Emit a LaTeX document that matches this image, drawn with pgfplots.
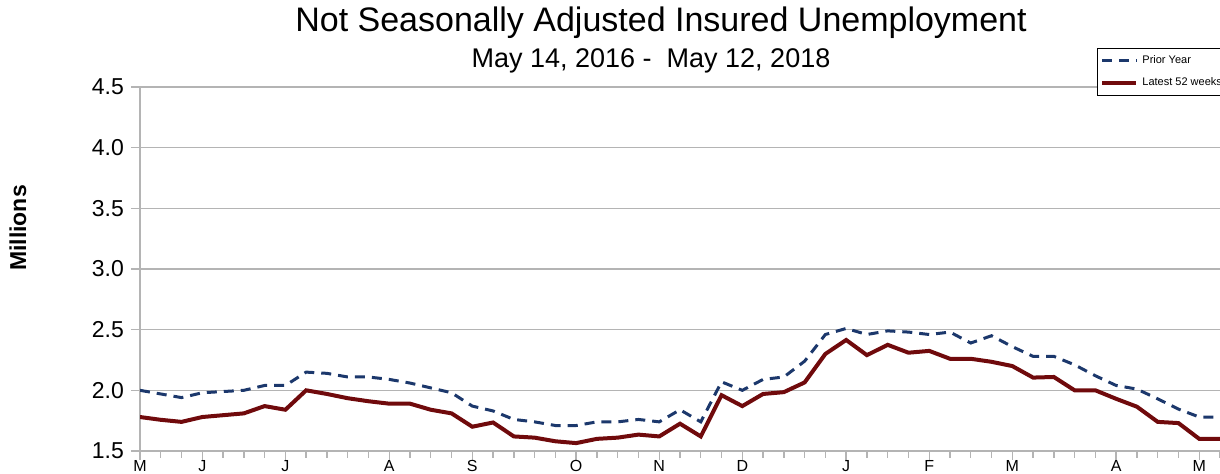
\documentclass[border=0pt]{standalone}
\usepackage{pgfplots}
\pgfplotsset{compat=1.18}
\usepackage{fontspec}
\setmainfont{Liberation Sans}
\definecolor{prior}{RGB}{28,56,108}
\definecolor{latest}{RGB}{112,10,12}
\definecolor{gridgray}{RGB}{180,180,180}
\begin{document}
\begin{tikzpicture}
\path[use as bounding box] (0,0) rectangle (610pt,237pt);
\begin{axis}[
  at={(70pt,11.5pt)}, anchor=south west,
  scale only axis, width=540pt, height=182pt,
  xmin=0, xmax=52, ymin=1.5, ymax=4.5,
  axis x line*=bottom, axis y line*=left,
  axis line style={gridgray, line width=1pt},
  ytick={1.5,2,2.5,3,3.5,4,4.5},
  yticklabel style={/pgf/number format/fixed,/pgf/number format/fixed zerofill,/pgf/number format/precision=1, font=\fontsize{11.5}{12}\selectfont},
  /pgf/number format/assume math mode=true,
  ymajorgrids, grid style={gridgray, line width=0.7pt},
  xtick={0,3,7,12,16,21,25,29,34,38,42,47,51},
  xticklabels={M,J,J,A,S,O,N,D,J,F,M,A,M},
  minor xtick={0,...,52},
  xticklabel style={font=\fontsize{8}{9}\selectfont, yshift=3.5pt},
  tick align=outside, major tick length=4.5pt, minor tick length=3.5pt,
  tick style={gridgray, line width=0.7pt},
  xmajorgrids=false,
  clip=true,
  legend style={at={(rel axis cs:0.886,1.107)}, anchor=north west, draw=black, line width=0.4pt,
    font=\fontsize{5.5}{6}\selectfont, inner sep=1.5pt, row sep=1.5pt, legend cell align=left},
]
\addplot[prior, line width=1.5pt, dash pattern=on 5pt off 3.5pt] coordinates {
(0,2.00)(1,1.97)(2,1.94)(3,1.98)(4,1.99)(5,2.00)(6,2.04)(7,2.04)(8,2.15)(9,2.14)
(10,2.11)(11,2.11)(12,2.09)(13,2.06)(14,2.02)(15,1.98)(16,1.87)(17,1.83)(18,1.76)(19,1.74)
(20,1.71)(21,1.71)(22,1.74)(23,1.74)(24,1.76)(25,1.74)(26,1.84)(27,1.74)(28,2.07)(29,2.00)
(30,2.09)(31,2.11)(32,2.24)(33,2.46)(34,2.51)(35,2.46)(36,2.49)(37,2.48)(38,2.46)(39,2.48)
(40,2.39)(41,2.45)(42,2.36)(43,2.28)(44,2.28)(45,2.21)(46,2.12)(47,2.04)(48,2.01)(49,1.93)
(50,1.845)(51,1.78)(52,1.78)};
\addlegendentry{Prior Year}
\addplot[latest, line width=2pt] coordinates {
(0,1.78)(1,1.757)(2,1.74)(3,1.78)(4,1.795)(5,1.81)(6,1.87)(7,1.84)(8,2.00)(9,1.97)
(10,1.935)(11,1.91)(12,1.89)(13,1.89)(14,1.84)(15,1.81)(16,1.70)(17,1.735)(18,1.62)(19,1.61)
(20,1.58)(21,1.565)(22,1.60)(23,1.61)(24,1.635)(25,1.62)(26,1.725)(27,1.62)(28,1.96)(29,1.87)
(30,1.97)(31,1.985)(32,2.065)(33,2.30)(34,2.415)(35,2.29)(36,2.375)(37,2.31)(38,2.325)(39,2.26)
(40,2.26)(41,2.235)(42,2.20)(43,2.105)(44,2.11)(45,2.00)(46,2.00)(47,1.93)(48,1.865)(49,1.74)
(50,1.73)(51,1.60)(52,1.60)};
\addlegendentry{Latest 52 weeks}
\end{axis}
\node[anchor=base, font=\fontsize{17}{18}\selectfont] at (330.5pt,221pt) {Not Seasonally Adjusted Insured Unemployment};
\node[anchor=base, font=\fontsize{13.5}{15}\selectfont] at (325.5pt,203pt) {May 14, 2016 -\ \ May 12, 2018};
\node[rotate=90, font=\fontsize{11.5}{12}\selectfont\bfseries] at (9pt,123pt) {Millions};
\end{tikzpicture}
\end{document}
